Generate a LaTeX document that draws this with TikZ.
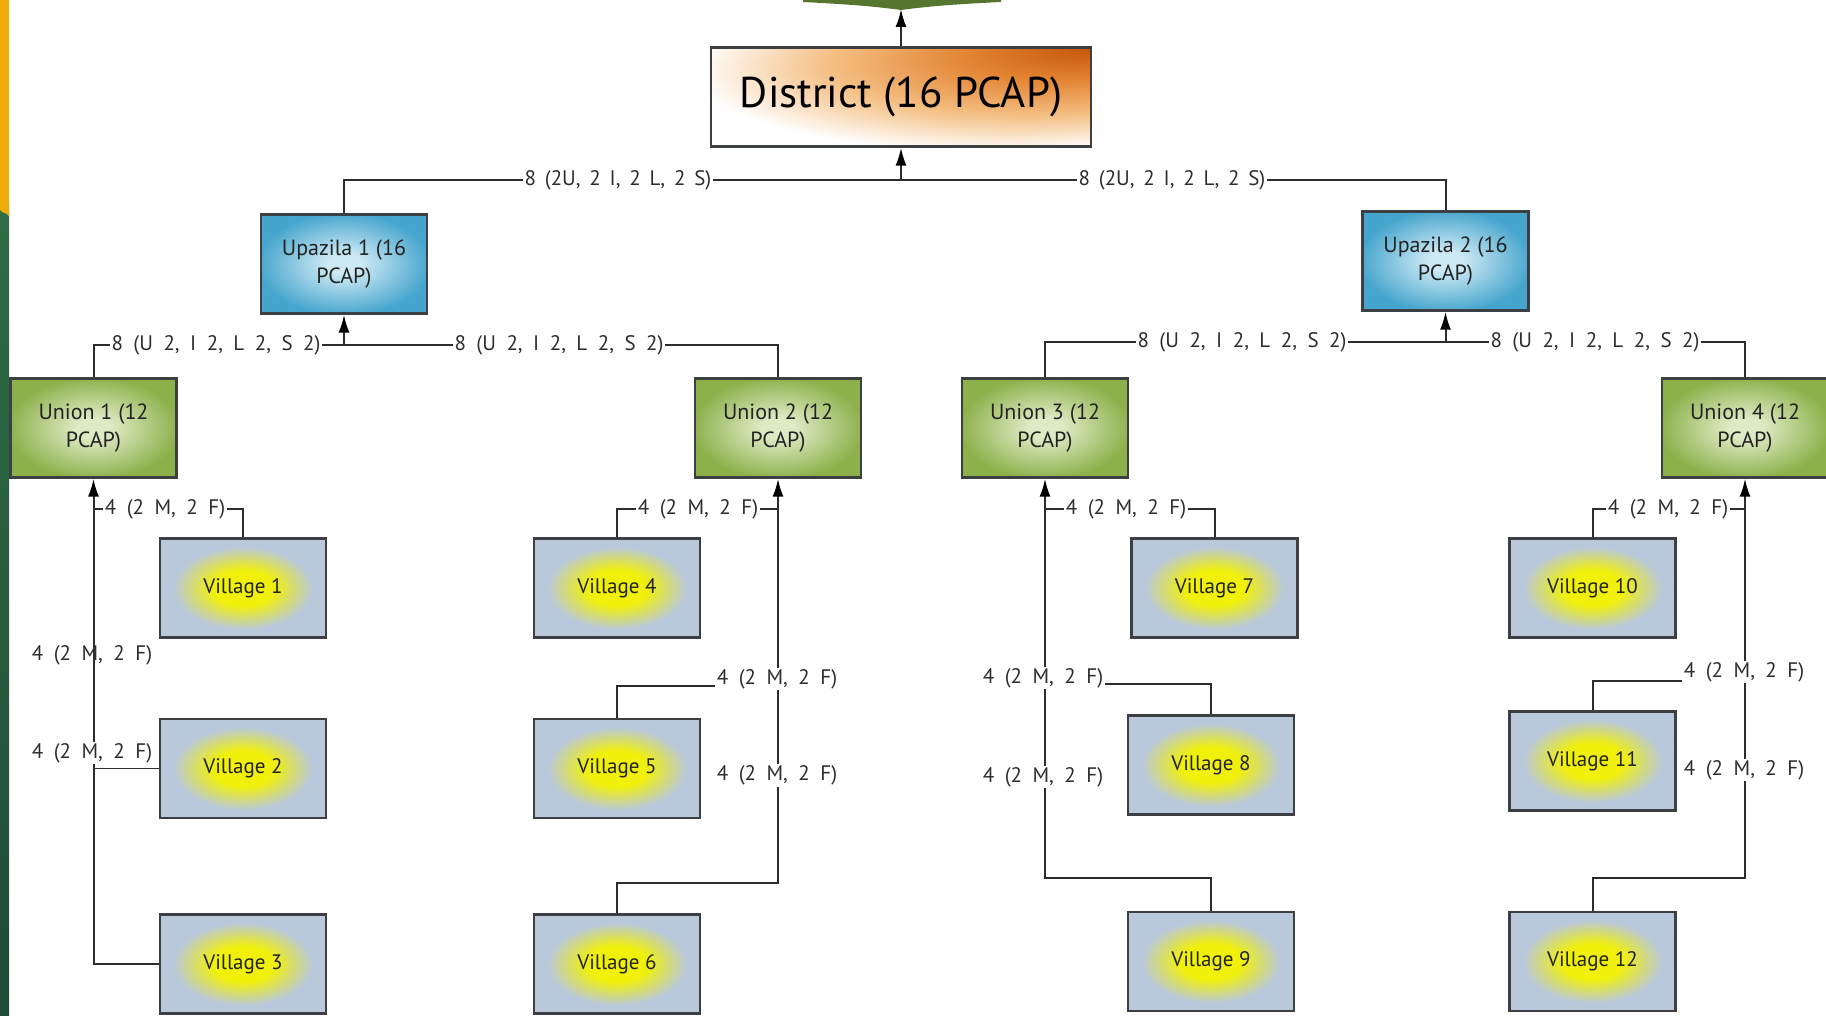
\documentclass[tikz,border=0pt]{standalone}
\usepackage{fontspec}
\setmainfont{PT Sans}
\usetikzlibrary{arrows.meta}
\definecolor{boxline}{RGB}{60,64,66}
\definecolor{lineC}{RGB}{45,45,45}
\definecolor{txt}{RGB}{35,35,35}
\definecolor{lbl}{RGB}{45,45,45}
\definecolor{villY}{RGB}{240,240,10}
\definecolor{villG}{RGB}{186,200,220}
\definecolor{upaC}{RGB}{205,233,244}
\definecolor{upaE}{RGB}{70,165,205}
\definecolor{unC}{RGB}{222,234,196}
\definecolor{unE}{RGB}{140,176,74}
\definecolor{distD}{RGB}{196,86,10}
\definecolor{distM}{RGB}{226,130,48}
\definecolor{distL}{RGB}{244,190,130}
\definecolor{stripY}{RGB}{240,172,10}
\definecolor{stripG1}{RGB}{46,108,70}
\definecolor{stripG2}{RGB}{30,76,54}
\definecolor{topgreen}{RGB}{84,118,46}
\newcommand\lblfont{\fontsize{21}{24}\selectfont\spaceskip=0.5em\relax}
\newcommand\toplblfont{\fontsize{21}{24}\selectfont\spaceskip=0.42em\relax}
\pgfdeclareradialshading{villshade}{\pgfpoint{0bp}{0bp}}{color(0bp)=(villY); color(9bp)=(villY); color(21bp)=(villG); color(50bp)=(villG)}
\pgfdeclareradialshading{upashade}{\pgfpoint{0bp}{0bp}}{color(0bp)=(upaC); color(5bp)=(upaC); color(26bp)=(upaE); color(50bp)=(upaE)}
\pgfdeclareradialshading{unshade}{\pgfpoint{0bp}{0bp}}{color(0bp)=(unC); color(5bp)=(unC); color(26bp)=(unE); color(50bp)=(unE)}
\pgfdeclareradialshading{distshade}{\pgfpoint{25bp}{25bp}}{color(0bp)=(distD); color(12bp)=(distM); color(26bp)=(distL); color(40bp)=(white); color(80bp)=(white)}
\tikzset{
  box/.style={draw=boxline, line width=2.4pt, minimum width=166pt, minimum height=99pt, inner sep=0pt, align=center, text=txt},
  upabox/.style={box, shade, shading=upashade, font=\fontsize{22}{28}\selectfont},
  unbox/.style={box, shade, shading=unshade, font=\fontsize{22}{28}\selectfont},
  villbox/.style={box, shade, shading=villshade, font=\fontsize{21}{25}\selectfont},
  distbox/.style={box, minimum width=380pt, minimum height=99pt, shade, shading=distshade, font=\fontsize{43}{48}\selectfont, text=black},
  conn/.style={draw=lineC, line width=2pt},
  thinconn/.style={draw=lineC, line width=1pt},
  arr/.style={-{Latex[length=18pt,width=11pt,color=black]}},
  elabel/.style={fill=white, inner sep=1.5pt, text=lbl, font=\lblfont},
  toplabel/.style={elabel, font=\toplblfont},
}
\begin{document}
\begin{tikzpicture}[x=1pt,y=-1pt]
\clip (0,0) rectangle (1826,1016);
\fill[white] (0,0) rectangle (1826,1016);
% left strip
\shade[top color=stripG1, bottom color=stripG2] (0,205) rectangle (9,1016);
\fill[stripY] (0,0) -- (9,0) -- (9,216) .. controls (6,212) and (3,214) .. (0,210) -- cycle;
% top green shape
\fill[topgreen] (803,0) -- (1001,0) -- (1001,2) .. controls (960,4) and (930,6) .. (901,10) .. controls (872,6) and (842,4) .. (803,2) -- cycle;
\coordinate (topc) at (901,9);

% nodes
\node[distbox] (district) at (901,97) {District (16 PCAP)};
\node[upabox] (upa1) at (344,264) {Upazila 1 (16\\PCAP)};
\node[upabox] (upa2) at (1445.5,261) {Upazila 2 (16\\PCAP)};
\node[unbox] (un1) at (93.5,428) {Union 1 (12\\PCAP)};
\node[unbox] (un2) at (778,428) {Union 2 (12\\PCAP)};
\node[unbox] (un3) at (1045,428) {Union 3 (12\\PCAP)};
\node[unbox] (un4) at (1745,428) {Union 4 (12\\PCAP)};
\node[villbox] (v1) at (243,588) {Village 1};
\node[villbox] (v2) at (243,768.5) {Village 2};
\node[villbox] (v3) at (243,964) {Village 3};
\node[villbox] (v4) at (617,588) {Village 4};
\node[villbox] (v5) at (617,768.5) {Village 5};
\node[villbox] (v6) at (617,964) {Village 6};
\node[villbox] (v7) at (1214.5,588) {Village 7};
\node[villbox] (v8) at (1211,765) {Village 8};
\node[villbox] (v9) at (1211,961.5) {Village 9};
\node[villbox] (v10) at (1592.5,588) {Village 10};
\node[villbox] (v11) at (1592.5,761) {Village 11};
\node[villbox] (v12) at (1592.5,961.5) {Village 12};

% junction coordinates
\coordinate (h0) at (901,180);
\coordinate (h1) at (344,345);
\coordinate (h2) at (1445.5,342);
\coordinate (j1) at (93.5,509);
\coordinate (j4) at (778,509);
\coordinate (j5) at (778,686);
\coordinate (j6) at (778,883);
\coordinate (j7) at (1045,509);
\coordinate (j8) at (1045,683.5);
\coordinate (j9) at (1045,878);
\coordinate (j10) at (1745,509);
\coordinate (j11) at (1745,681);
\coordinate (j12) at (1745,878);

% connectors
\draw[conn, arr] (district.north) -- (topc);
\draw[conn] (upa1.north) |- (h0) -| (upa2.north);
\draw[conn, arr] (h0) -- (district.south);
\draw[conn] (un1.north) |- (h1) -| (un2.north);
\draw[conn, arr] (h1) -- (upa1.south);
\draw[conn] (un3.north) |- (h2) -| (un4.north);
\draw[conn, arr] (h2) -- (upa2.south);

\draw[conn, arr] (v3.west) -| (un1.south);
\draw[conn] (v1.north) |- (j1);
\draw[thinconn] (v2.west) -- (v2.west -| un1.south);

\draw[conn, arr] (v6.north) |- (j6) -- (un2.south);
\draw[conn] (v5.north) |- (j5);
\draw[conn] (v4.north) |- (j4);

\draw[conn, arr] (v9.north) |- (j9) -- (un3.south);
\draw[conn] (v8.north) |- (j8);
\draw[conn] (v7.north) |- (j7);

\draw[conn, arr] (v12.north) |- (j12) -- (un4.south);
\draw[conn] (v11.north) |- (j11);
\draw[conn] (v10.north) |- (j10);

% labels
\node[toplabel] (l0a) at (618,180) {8 (2U, 2 I, 2 L, 2 S)};
\node[toplabel] (l0b) at (1172,180) {8 (2U, 2 I, 2 L, 2 S)};
\node[elabel] (l1a) at (216,345) {8 (U 2, I 2, L 2, S 2)};
\node[elabel] (l1b) at (559,345) {8 (U 2, I 2, L 2, S 2)};
\node[elabel] (l2a) at (1242,342) {8 (U 2, I 2, L 2, S 2)};
\node[elabel] (l2b) at (1595,342) {8 (U 2, I 2, L 2, S 2)};

\node[elabel] (la1) at (165,509) {4 (2 M, 2 F)};
\node[elabel, fill=none] (la2) at (92,655) {4 (2 M, 2 F)};
\node[elabel] (la3) at (92,753) {4 (2 M, 2 F)};

\node[elabel] (lb1) at (698,509) {4 (2 M, 2 F)};
\node[elabel] (lb2) at (777,679) {4 (2 M, 2 F)};
\node[elabel] (lb3) at (777,775.5) {4 (2 M, 2 F)};

\node[elabel] (lc1) at (1126,509) {4 (2 M, 2 F)};
\node[elabel] (lc2) at (1043,678) {4 (2 M, 2 F)};
\node[elabel] (lc3) at (1043,777) {4 (2 M, 2 F)};

\node[elabel] (ld1) at (1668,509) {4 (2 M, 2 F)};
\node[elabel] (ld2) at (1744,672) {4 (2 M, 2 F)};
\node[elabel] (ld3) at (1744,770) {4 (2 M, 2 F)};
\end{tikzpicture}
\end{document}
